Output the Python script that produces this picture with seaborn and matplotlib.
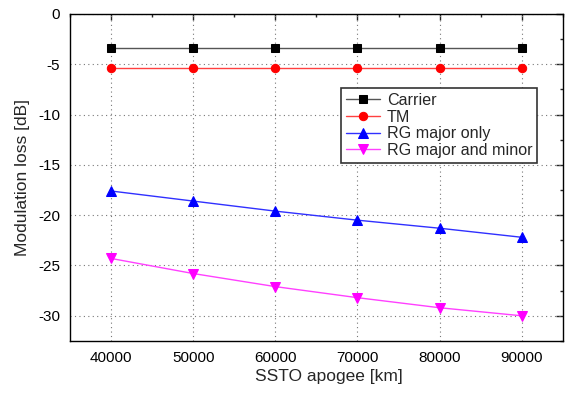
import matplotlib
matplotlib.use("Agg")
import matplotlib.pyplot as plt
import seaborn as sns
import pandas as pd
from matplotlib.ticker import MultipleLocator

apogee = [40000, 50000, 60000, 70000, 80000, 90000]
carrier = [-3.4, -3.4, -3.4, -3.4, -3.4, -3.4]
tm = [-5.35, -5.35, -5.35, -5.35, -5.35, -5.35]
rg_major = [-17.6, -18.6, -19.6, -20.5, -21.3, -22.2]
rg_major_minor = [-24.3, -25.8, -27.1, -28.2, -29.2, -30.0]

series_names = ["Carrier", "TM", "RG major only", "RG major and minor"]
series_values = [carrier, tm, rg_major, rg_major_minor]
ytick_values = [0, -5, -10, -15, -20, -25, -30]
ytick_labels = ["0", "-5", "-10", "-15", "-20", "-25", "-30"]

sns.set_style("white")
plt.rcParams['font.family'] = ['Liberation Sans', 'DejaVu Sans']

rows = []
for name, vals in zip(series_names, series_values):
    for x, y in zip(apogee, vals):
        rows.append({"apogee": x, "loss": y, "series": name})
df = pd.DataFrame(rows)

fig = plt.figure(figsize=(5.68, 3.96), dpi=100)
ax = fig.add_axes([0.123, 0.139, 0.868, 0.826])

line_colors = {"Carrier": "#555555", "TM": "#ff4040", "RG major only": "#3030ff",
               "RG major and minor": "#ff40ff"}
marker_colors = {"Carrier": "black", "TM": "red", "RG major only": "blue",
                 "RG major and minor": "magenta"}
markers = {"Carrier": "s", "TM": "o", "RG major only": "^", "RG major and minor": "v"}
msizes = {"Carrier": 6, "TM": 6, "RG major only": 7, "RG major and minor": 7.5}

for name in series_names:
    sub = df[df["series"] == name]
    sns.lineplot(data=sub, x="apogee", y="loss", ax=ax, color=line_colors[name],
                 marker=markers[name], markersize=msizes[name],
                 markerfacecolor=marker_colors[name], markeredgecolor=marker_colors[name],
                 linewidth=1.0, label=name)

ax.set_xlim(35000, 95000)
ax.set_ylim(-32.5, 0)
ax.xaxis.set_major_locator(MultipleLocator(10000))
ax.xaxis.set_minor_locator(MultipleLocator(5000))
ax.yaxis.set_minor_locator(MultipleLocator(2.5))
ax.set_yticks(ytick_values)
ax.set_yticklabels(ytick_labels)
ax.grid(True, which="major", linestyle=(0, (1, 3)), color="#777777", linewidth=0.8)

ax.tick_params(axis="both", which="major", direction="out", length=4, width=1,
               labelsize=11, colors="black", pad=3)
ax.tick_params(axis="both", which="minor", direction="out", length=2.5, width=1)

# inward ticks on top and right
top = ax.secondary_xaxis('top')
top.xaxis.set_major_locator(MultipleLocator(10000))
top.xaxis.set_minor_locator(MultipleLocator(5000))
top.tick_params(which="major", direction="in", length=4, width=1, labeltop=False)
top.tick_params(which="minor", direction="in", length=2.5, width=1)
right = ax.secondary_yaxis('right')
right.yaxis.set_major_locator(MultipleLocator(5))
right.yaxis.set_minor_locator(MultipleLocator(2.5))
right.tick_params(which="major", direction="in", length=5, width=1, labelright=False)
right.tick_params(which="minor", direction="in", length=2.5, width=1)
for sec in (top, right):
    for s in sec.spines.values():
        s.set_visible(False)

for s in ax.spines.values():
    s.set_color("black")
    s.set_linewidth(1.0)

ax.set_xlabel("SSTO apogee [km]", fontsize=12.5, labelpad=6)
ax.xaxis.set_label_coords(0.525, -0.085)
ax.set_ylabel("Modulation loss [dB]", fontsize=12.5, labelpad=6)

leg = ax.legend(loc="upper left", bbox_to_anchor=(0.55, 0.773), fontsize=11.6,
                frameon=True, fancybox=False, edgecolor="black", framealpha=1,
                borderpad=0.3, labelspacing=0.1, handlelength=2.1, handletextpad=0.45,
                borderaxespad=0)
leg.get_frame().set_linewidth(1.2)
leg.get_frame().set_edgecolor("#333333")

fig.savefig("out.png", dpi=100)
